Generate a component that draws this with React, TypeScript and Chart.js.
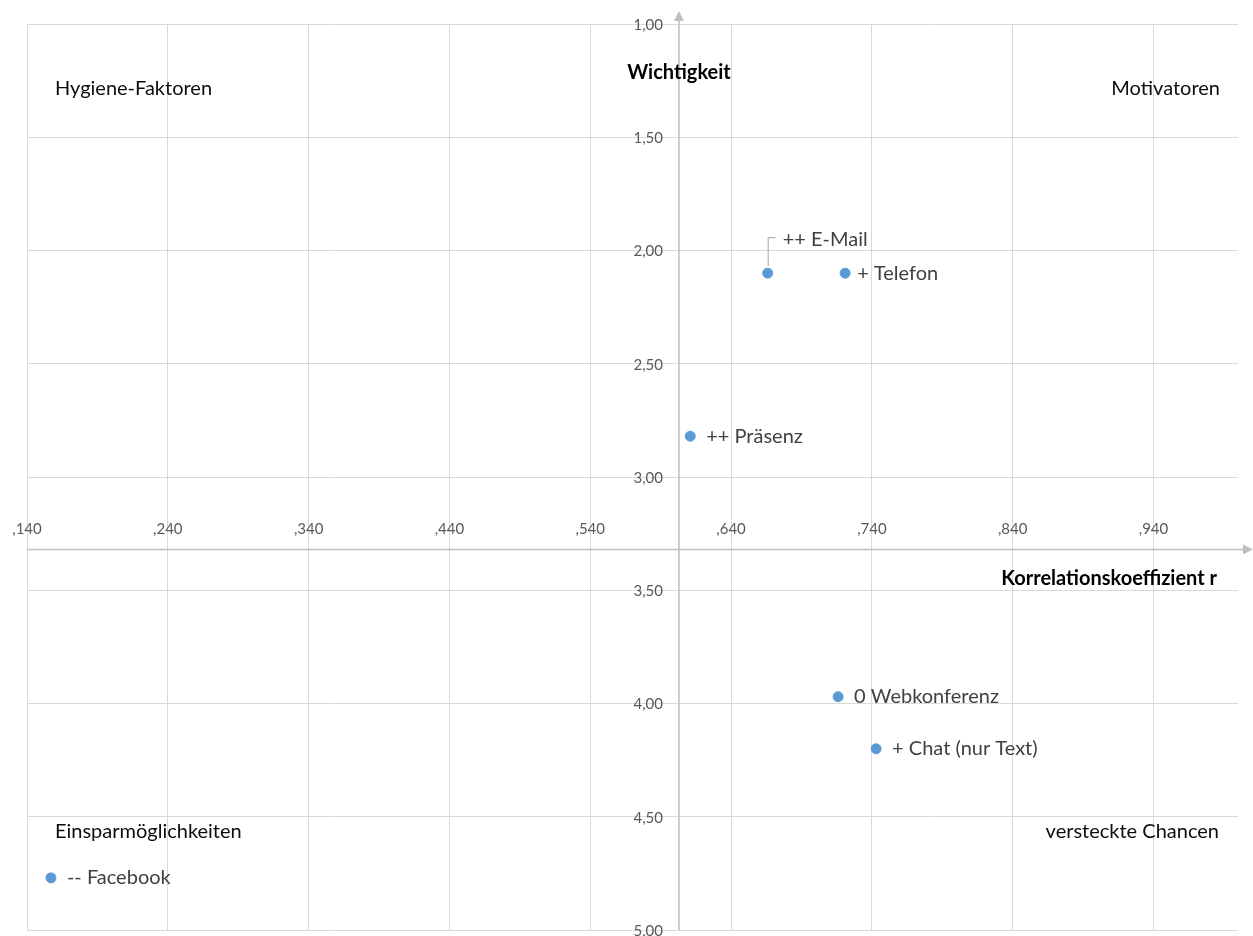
import React, { useEffect, useRef } from "react";
import { Chart, registerables } from "chart.js";

Chart.register(...registerables);

// ---- data ----
const channels = ["-- Facebook", "++ Präsenz", "++ E-Mail", "+ Telefon", "0 Webkonferenz", "+ Chat (nur Text)"];
const korrelation = [0.157, 0.611, 0.666, 0.721, 0.716, 0.743];
const wichtigkeit = [4.77, 2.82, 2.1, 2.1, 3.97, 4.2];

const xTickValues = [0.14, 0.24, 0.34, 0.44, 0.54, 0.64, 0.74, 0.84, 0.94];
const xTickLabels = [",140", ",240", ",340", ",440", ",540", ",640", ",740", ",840", ",940"];
const yTickValues = [1, 1.5, 2, 2.5, 3, 3.5, 4, 4.5, 5];
const yTickLabels = ["1,00", "1,50", "2,00", "2,50", "3,00", "3,50", "4,00", "4,50", "5,00"];

const quadrantLabels = ["Hygiene-Faktoren", "Motivatoren", "Einsparmöglichkeiten", "versteckte Chancen"];
const xAxisTitle = "Korrelationskoeffizient r";
const yAxisTitle = "Wichtigkeit";
const yAxisCrossesAtX = 0.603;
const xAxisCrossesAtY = 3.32;

// ---- styling (label offsets in px from the point) ----
const labelOffsets: [number, number][] = [[16, 0], [16, 0], [15, -34], [12, 0], [16, 0], [16, 0]];
const FONT = "Lato, 'Open Sans', sans-serif";
const AXIS_COLOR = "#bfbfbf";
const GRID_COLOR = "#d9d9d9";

const overlayPlugin = {
  id: "overlay",
  beforeDatasetsDraw(chart: any) {
    const { ctx, chartArea, scales } = chart;
    const xs = scales.x, ys = scales.y;
    const ax = xs.getPixelForValue(yAxisCrossesAtX);
    const ay = ys.getPixelForValue(xAxisCrossesAtY);
    ctx.save();
    ctx.strokeStyle = AXIS_COLOR;
    ctx.fillStyle = AXIS_COLOR;
    ctx.lineWidth = 1.5;
    // y axis
    ctx.beginPath();
    ctx.moveTo(ax, chartArea.bottom);
    ctx.lineTo(ax, chartArea.top - 4);
    ctx.stroke();
    ctx.beginPath();
    ctx.moveTo(ax, chartArea.top - 13);
    ctx.lineTo(ax - 5, chartArea.top - 3);
    ctx.lineTo(ax + 5, chartArea.top - 3);
    ctx.closePath();
    ctx.fill();
    // x axis
    ctx.beginPath();
    ctx.moveTo(chartArea.left, ay);
    ctx.lineTo(chartArea.right + 5, ay);
    ctx.stroke();
    ctx.beginPath();
    ctx.moveTo(chartArea.right + 15, ay);
    ctx.lineTo(chartArea.right + 5, ay - 5);
    ctx.lineTo(chartArea.right + 5, ay + 5);
    ctx.closePath();
    ctx.fill();

    // tick labels
    ctx.fillStyle = "#595959";
    ctx.font = `15px ${FONT}`;
    ctx.textAlign = "center";
    ctx.textBaseline = "middle";
    xTickValues.forEach((v, i) => {
      ctx.fillText(xTickLabels[i], xs.getPixelForValue(v), ay - 20);
    });
    ctx.textAlign = "right";
    yTickValues.forEach((v, i) => {
      ctx.fillText(yTickLabels[i], ax - 16, ys.getPixelForValue(v) + 1);
    });

    // axis titles
    ctx.fillStyle = "#000000";
    ctx.font = `bold 20px ${FONT}`;
    ctx.textAlign = "center";
    ctx.fillText(yAxisTitle, ax, chartArea.top + 49);
    ctx.textAlign = "right";
    ctx.fillText(xAxisTitle, chartArea.right - 21, ay + 29);

    // quadrant labels
    ctx.font = `20px ${FONT}`;
    ctx.fillStyle = "#0d0d0d";
    ctx.textAlign = "left";
    ctx.fillText(quadrantLabels[0], chartArea.left + 28, chartArea.top + 65);
    ctx.fillText(quadrantLabels[2], chartArea.left + 28, chartArea.bottom - 98);
    ctx.textAlign = "right";
    ctx.fillText(quadrantLabels[1], chartArea.right - 18, chartArea.top + 65);
    ctx.fillText(quadrantLabels[3], chartArea.right - 19, chartArea.bottom - 98);
    ctx.restore();
  },
  afterDatasetsDraw(chart: any) {
    const { ctx } = chart;
    const meta = chart.getDatasetMeta(0);
    ctx.save();
    ctx.font = `20px ${FONT}`;
    ctx.fillStyle = "#404040";
    ctx.textAlign = "left";
    ctx.textBaseline = "middle";
    meta.data.forEach((pt: any, i: number) => {
      const [dx, dy] = labelOffsets[i];
      const tx = pt.x + dx;
      const ty = pt.y + dy;
      if (dy !== 0) {
        ctx.strokeStyle = "#a6a6a6";
        ctx.lineWidth = 1;
        ctx.beginPath();
        ctx.moveTo(pt.x + 0.5, pt.y - 7);
        ctx.lineTo(pt.x + 0.5, ty - 1.5);
        ctx.lineTo(tx - 7, ty - 1.5);
        ctx.stroke();
      }
      ctx.fillText(channels[i], tx, ty);
    });
    ctx.restore();
  },
};

export default function App() {
  const canvasRef = useRef<HTMLCanvasElement | null>(null);
  useEffect(() => {
    if (!canvasRef.current) return;
    const chart = new Chart(canvasRef.current, {
      type: "scatter",
      data: {
        datasets: [
          {
            label: "Kanäle",
            data: korrelation.map((x, i) => ({ x, y: wichtigkeit[i] })),
            backgroundColor: "#5b9bd5",
            borderColor: "#5b9bd5",
            pointRadius: 5,
            pointHoverRadius: 5,
          },
        ],
      },
      options: {
        animation: false,
        responsive: true,
        maintainAspectRatio: false,
        layout: { padding: { left: 27, top: 24, right: 15, bottom: 5 } },
        plugins: { legend: { display: false }, tooltip: { enabled: false } },
        scales: {
          x: {
            type: "linear",
            min: 0.14,
            max: 1.0,
            afterBuildTicks: (s: any) => {
              s.ticks = xTickValues.map((value) => ({ value }));
            },
            ticks: { display: false },
            grid: { color: GRID_COLOR, lineWidth: 1, drawTicks: false },
            border: { display: false },
          },
          y: {
            type: "linear",
            reverse: true,
            min: 1,
            max: 5,
            afterBuildTicks: (s: any) => {
              s.ticks = yTickValues.map((value) => ({ value }));
            },
            ticks: { display: false },
            grid: { color: GRID_COLOR, lineWidth: 1, drawTicks: false },
            border: { display: false },
          },
        },
      },
      plugins: [overlayPlugin],
    } as any);
    return () => chart.destroy();
  }, []);
  return (
    <div style={{ position: "fixed", left: 0, top: 0, width: 1253, height: 936, background: "#fff" }}>
      <canvas ref={canvasRef} />
    </div>
  );
}
